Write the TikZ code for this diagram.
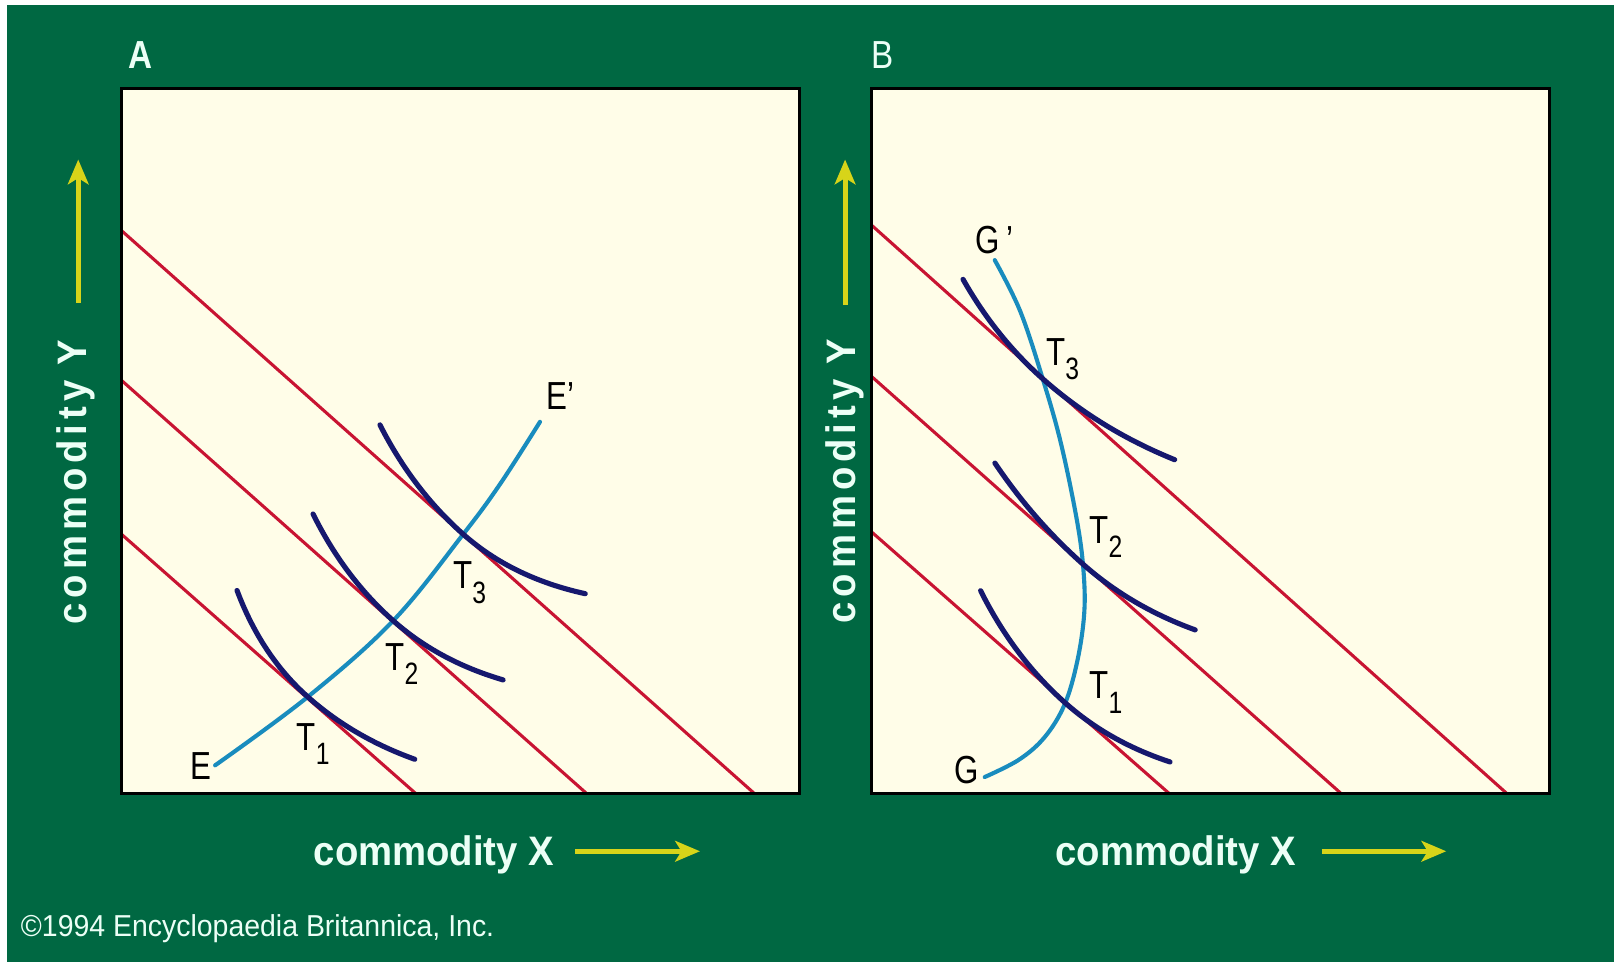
\documentclass[tikz,border=0pt]{standalone}
\usepackage{fontspec}
\setmainfont{Liberation Sans}
\newfontfamily\axfontX[FakeStretch=0.93]{Liberation Sans}
\newfontfamily\axfontY[FakeStretch=0.93,LetterSpace=12]{Liberation Sans}
\newfontfamily\labfont[FakeStretch=0.8]{Liberation Sans}
\newfontfamily\copyfont[FakeStretch=0.94]{Liberation Sans}
\newfontfamily\panelfont[FakeStretch=0.85]{Liberation Sans}
\usetikzlibrary{arrows.meta}
\definecolor{bggreen}{RGB}{0,104,66}
\definecolor{cream}{RGB}{255,253,232}
\definecolor{budgetred}{RGB}{200,20,50}
\definecolor{navy}{RGB}{22,24,110}
\definecolor{tealblue}{RGB}{25,140,190}
\definecolor{arrowyellow}{RGB}{215,212,25}
\definecolor{paletext}{RGB}{236,255,246}
\newcommand{\icurve}[6]{%
  \draw[indiff] plot[domain=#3:#4, samples=60]
    ({#1 + 0.748*\x + 0.664*(#5 + (#6-#5)*(\x>0))*(\x/100)*(\x/100)},
     {#2 + 0.664*\x - 0.748*(#5 + (#6-#5)*(\x>0))*(\x/100)*(\x/100)});}
\newcommand{\Tlab}[1]{T\raisebox{-7pt}{\fontsize{15pt}{15pt}\selectfont #1}}
\begin{document}
\begin{tikzpicture}[x=0.5pt,y=-0.5pt,
  budget/.style={draw=budgetred, line width=1.5pt},
  indiff/.style={draw=navy, line width=2.5pt, line cap=round},
  expansion/.style={draw=tealblue, line width=2pt, line cap=round},
  boxline/.style={draw=black, line width=1.5pt},
  yarrow/.style={draw=arrowyellow, line width=2.5pt, -{Stealth[length=12pt,width=10pt,inset=3pt]}},
  lab/.style={inner sep=0pt, anchor=base west, text=black, font=\labfont\fontsize{19pt}{21pt}\selectfont},
  axlab/.style={inner sep=0pt, anchor=base west, text=paletext, font=\axfontX\bfseries\fontsize{20pt}{24pt}\selectfont},
  aylab/.style={inner sep=0pt, anchor=base west, rotate=90, text=paletext, font=\axfontY\bfseries\fontsize{20pt}{24pt}\selectfont},
  panellab/.style={inner sep=0pt, anchor=base west, text=paletext}]
\useasboundingbox (0,0) rectangle (1568,935);
\fill[white] (0,0) rectangle (1568,935);
\fill[bggreen] (7,5) rectangle (1568,935);

% ---------- Panel A ----------
\fill[cream] (118,86) rectangle (777,771);
\draw[budget] (118,224) -- (733,771);
\draw[budget] (118,369.5) -- (570,771);
\draw[budget] (118,519) -- (404,771);
\draw[expansion] plot[smooth, tension=0.6] coordinates {(209,743.5) (299,677) (382,603) (450,519) (486,470) (524.6,409.8)};
\icurve{299}{677}{-120}{118}{22}{17}
\icurve{382}{603}{-127}{118}{16}{20}
\icurve{450}{519}{-131}{127}{15}{22}
\draw[boxline] (118,86) rectangle (777,771);

\node[lab] (labE) at (185,757) {E};
\node[lab] (labEp) at (531,398) {E’};
\node[lab] (labT1a) at (288,729) {\Tlab{1}};
\node[lab] (labT2a) at (374,651) {\Tlab{2}};
\node[lab] (labT3a) at (440,572) {\Tlab{3}};

\node[panellab, font=\panelfont\bfseries\fontsize{19pt}{22pt}\selectfont] (labA) at (124.5,66.4) {A};
\node[axlab] (xlabA) at (304.4,840.7) {commodity X};
\node[aylab] (ylabA) at (84,607) {commodity Y};
\coordinate (axA0) at (559,827);
\coordinate (axA1) at (680,827);
\draw[yarrow] (axA0) -- (axA1);
\coordinate (ayA0) at (76,294);
\coordinate (ayA1) at (76,155);
\draw[yarrow] (ayA0) -- (ayA1);

% ---------- Panel B ----------
\fill[cream] (847,86) rectangle (1505,771);
\draw[budget] (847,219) -- (1464,771);
\draw[budget] (847,366) -- (1303,771);
\draw[budget] (847,517) -- (1136,771);
\draw[expansion] plot[smooth, tension=0.6] coordinates {(956.6,754.9) (990,738) (1015,716) (1034,685) (1046,645) (1053,600) (1053,560) (1047,510) (1031,432) (1013,368) (991,302) (966.4,252.7)};
\icurve{1013}{368}{-122}{148}{14}{12}
\icurve{1052}{548}{-129}{124}{10}{16}
\icurve{1035}{683}{-134}{114}{15}{19}
\draw[boxline] (847,86) rectangle (1505,771);

\node[lab] (labG) at (927,761) {G};
\node[lab] (labGp) at (947,246) {G\,’};
\node[lab] (labT1b) at (1058,679) {\Tlab{1}};
\node[lab] (labT2b) at (1058,528) {\Tlab{2}};
\node[lab] (labT3b) at (1016,355) {\Tlab{3}};

\node[panellab, font=\panelfont\fontsize{19pt}{22pt}\selectfont] (labB) at (846,66.4) {B};
\node[axlab] (xlabB) at (1025,841) {commodity X};
\node[aylab] (ylabB) at (831,606) {commodity Y};
\coordinate (axB0) at (1284,827);
\coordinate (axB1) at (1405,827);
\draw[yarrow] (axB0) -- (axB1);
\coordinate (ayB0) at (821,296);
\coordinate (ayB1) at (821,155);
\draw[yarrow] (ayB0) -- (ayB1);

% ---------- Copyright ----------
\node[inner sep=0pt, anchor=base west, text=paletext, font=\copyfont\fontsize{14.7pt}{17pt}\selectfont] (copy) at (20,910) {©1994 Encyclopaedia Britannica, Inc.};
\end{tikzpicture}
\end{document}
